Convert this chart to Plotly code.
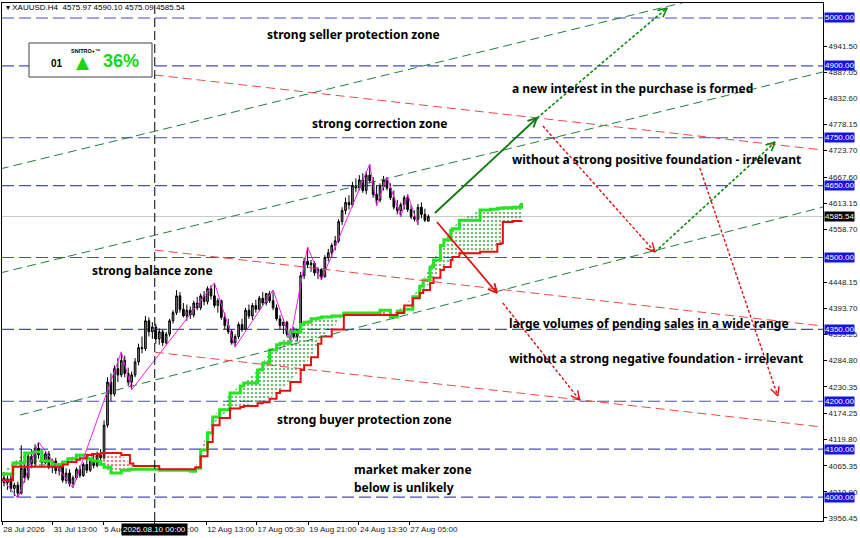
import math
import plotly.graph_objects as go

# ---- candles (H4 bars, index from the left edge) ----
opens = [4040, 4030, 4038, 4018, 4025, 4008, 4060, 4040, 4085, 4070,
         4102, 4088, 4072, 4090, 4062, 4075, 4055, 4066, 4035, 4050,
         4028, 4040, 4058, 4045, 4068, 4056, 4075, 4066, 4088, 4082,
         4150, 4240, 4215, 4268, 4255, 4285, 4258, 4240, 4255, 4282,
         4312, 4310, 4368, 4345, 4355, 4330, 4345, 4322, 4340, 4368,
         4385, 4420, 4392, 4378, 4390, 4380, 4405, 4395, 4420, 4408,
         4435, 4420, 4400, 4410, 4375, 4358, 4345, 4322, 4335, 4360,
         4350, 4390, 4378, 4400, 4392, 4415, 4405, 4425, 4410, 4395,
         4372, 4358, 4365, 4340, 4345, 4335, 4348, 4462, 4492, 4485,
         4488, 4468, 4475, 4460, 4500, 4510, 4525, 4535, 4575, 4598,
         4615, 4610, 4650, 4645, 4662, 4640, 4672, 4660, 4632, 4620,
         4648, 4662, 4645, 4625, 4605, 4598, 4610, 4625, 4600, 4585,
         4580, 4605, 4590, 4575.97]
highs = [4052, 4045, 4048, 4030, 4032, 4108, 4075, 4090, 4100, 4110,
         4115, 4098, 4095, 4096, 4080, 4082, 4070, 4072, 4060, 4058,
         4045, 4062, 4066, 4072, 4078, 4080, 4090, 4095, 4100, 4160,
         4250, 4258, 4275, 4290, 4303, 4295, 4270, 4262, 4290, 4320,
         4335, 4378, 4375, 4365, 4362, 4352, 4350, 4345, 4372, 4390,
         4432, 4428, 4405, 4402, 4398, 4410, 4418, 4425, 4430, 4440,
         4442, 4447, 4415, 4412, 4385, 4372, 4350, 4340, 4365, 4372,
         4395, 4402, 4405, 4412, 4420, 4428, 4425, 4430, 4432, 4402,
         4380, 4372, 4368, 4352, 4355, 4350, 4470, 4500, 4522, 4495,
         4492, 4480, 4478, 4505, 4518, 4530, 4545, 4580, 4605, 4625,
         4630, 4658, 4665, 4672, 4676, 4680, 4695, 4668, 4650, 4655,
         4670, 4668, 4655, 4640, 4620, 4615, 4630, 4632, 4610, 4598,
         4612, 4615, 4602, 4590.10]
lows = [4022, 4015, 4010, 4002, 3998, 4005, 4030, 4035, 4060, 4065,
        4080, 4065, 4068, 4058, 4050, 4048, 4045, 4030, 4028, 4022,
        4019, 4036, 4040, 4042, 4050, 4052, 4060, 4062, 4070, 4078,
        4145, 4200, 4210, 4240, 4250, 4250, 4232, 4224, 4250, 4275,
        4300, 4305, 4335, 4330, 4320, 4318, 4315, 4318, 4335, 4362,
        4380, 4385, 4375, 4368, 4372, 4375, 4390, 4390, 4400, 4402,
        4412, 4395, 4385, 4370, 4350, 4340, 4318, 4313, 4330, 4345,
        4348, 4372, 4370, 4385, 4388, 4400, 4400, 4405, 4390, 4368,
        4350, 4340, 4335, 4328, 4330, 4325, 4345, 4455, 4478, 4470,
        4462, 4455, 4453, 4458, 4492, 4500, 4515, 4530, 4568, 4590,
        4600, 4605, 4636, 4640, 4635, 4632, 4655, 4625, 4608, 4615,
        4640, 4640, 4620, 4600, 4590, 4585, 4600, 4595, 4580, 4575,
        4568, 4582, 4574, 4575.09]
closes = [4030, 4038, 4018, 4025, 4008, 4060, 4040, 4085, 4070, 4102,
          4088, 4072, 4090, 4062, 4075, 4055, 4066, 4035, 4050, 4028,
          4040, 4058, 4045, 4068, 4056, 4075, 4066, 4088, 4082, 4150,
          4240, 4215, 4268, 4255, 4285, 4258, 4240, 4255, 4282, 4312,
          4310, 4368, 4345, 4355, 4330, 4345, 4322, 4340, 4368, 4385,
          4420, 4392, 4378, 4390, 4380, 4405, 4395, 4420, 4408, 4435,
          4420, 4400, 4410, 4375, 4358, 4345, 4322, 4335, 4360, 4350,
          4390, 4378, 4400, 4392, 4415, 4405, 4425, 4410, 4395, 4372,
          4358, 4365, 4340, 4345, 4335, 4348, 4462, 4492, 4485, 4488,
          4468, 4475, 4460, 4500, 4510, 4525, 4535, 4575, 4598, 4615,
          4610, 4650, 4645, 4662, 4640, 4672, 4660, 4632, 4620, 4648,
          4662, 4645, 4625, 4605, 4598, 4610, 4625, 4600, 4585, 4580,
          4605, 4590, 4578, 4585.54]
bars = list(range(len(closes)))
last_price = 4585.54

# ---- zigzag pivots ----
zz_x = [-1, 4, 10, 20, 34, 37, 61, 67, 78, 83, 88, 92, 106, 108, 111, 115, 117, 120]
zz_y = [4042, 3998, 4115, 4019, 4303, 4224, 4447, 4313, 4432, 4328, 4522, 4453,
        4695, 4608, 4668, 4585, 4632, 4568]

# ---- ichimoku cloud (span A green, span B red), shifted 26 bars ahead ----
cloud_x = [-1, 2.6, 6, 8.5, 11, 14, 17, 18.5, 21, 22,
           24, 25.5, 28, 29, 31, 34, 36.5, 37.5, 45, 54,
           55.5, 57, 59, 60.5, 62.5, 65.5, 68.5, 69.5, 73.5, 75,
           77, 79, 80, 83, 86, 87, 89, 91, 92, 95,
           98.5, 109, 112, 114, 116, 118.5, 120.5, 121.5, 123.5, 124.5,
           126.5, 127.5, 129.5, 130, 132, 138, 141, 143, 144, 144.6,
           147.5, 150]
span_a = [4048, 4071, 4092, 4094, 4075, 4068, 4073, 4080, 4088, 4088,
          4080, 4075, 4068, 4062, 4050, 4056, 4058, 4058, 4056, 4054,
          4060, 4098, 4134, 4167, 4182, 4217, 4232, 4238, 4265, 4280,
          4307, 4318, 4321, 4345, 4360, 4365, 4372, 4374, 4376, 4378,
          4384, 4390, 4376, 4388, 4392, 4418, 4440, 4453, 4480, 4495,
          4525, 4537, 4557, 4560, 4578, 4599, 4601, 4603, 4603, 4604,
          4605, 4614]
span_b = [4035, 4063, 4063, 4063, 4063, 4063, 4068, 4073, 4078, 4081,
          4088, 4090, 4092, 4092, 4092, 4088, 4070, 4065, 4058, 4058,
          4062, 4085, 4115, 4150, 4165, 4185, 4188, 4190, 4196, 4198,
          4205, 4217, 4222, 4240, 4265, 4275, 4292, 4320, 4335, 4350,
          4380, 4380, 4380, 4384, 4400, 4415, 4426, 4432, 4447, 4458,
          4474, 4480, 4495, 4501, 4509, 4512, 4512, 4528, 4530, 4574,
          4576, 4578]

# ---- levels ----
levels = [5000, 4900, 4750, 4650, 4500, 4350, 4200, 4100, 4000]
axis_ticks = [4941.50, 4887.05, 4832.60, 4778.15, 4723.70, 4667.60, 4613.15, 4558.70,
              4448.15, 4393.70, 4339.25, 4284.80, 4230.35, 4174.25, 4119.80, 4065.35,
              4010.90, 3956.45]
time_ticks = [-0.5, 14.1, 28.8, 43.7, 58.6, 73.2, 88.2, 102.9, 117.5]
time_labels = ["28 Jul 2026", "31 Jul 13:00", "5 Aug 05:00", "7 Aug 21:00", "12 Aug 13:00",
               "17 Aug 05:30", "19 Aug 21:00", "24 Aug 13:30", "27 Aug 05:00"]
marker_bar = 43.7

# ---- trend lines (bar, price) -> (bar, price) ----
green_lines = [((-1.2, 4684.8), (201.7, 5040.6)),
               ((-1.2, 4467.6), (237.4, 4887.3)),
               ((4.6, 4171.2), (237.4, 4605.4))]
red_lines = [((43.7, 4881.0), (237.4, 4724.4)),
             ((43.7, 4515.7), (237.4, 4357.0)),
             ((43.7, 4302.3), (237.4, 4146.1))]

# ---- scenario arrows ----
arrows = [((124.9, 4592.9), (154.5, 4791.2), "#0a7a0a", "solid", 1.8),
          ((154.5, 4791.2), (192.2, 5020.9), "#0a8a0a", "3px,2px", 1.6),
          ((156.2, 4774.5), (188.7, 4511.5), "#e01010", "3px,2px", 1.4),
          ((188.7, 4511.5), (223.5, 4741.1), "#0a8a0a", "3px,2px", 1.6),
          ((201.7, 4686.8), (224.3, 4210.9), "#e01010", "3px,2px", 1.4),
          ((125.5, 4574.1), (142.9, 4425.9), "#e01010", "solid", 1.8),
          ((144.6, 4405.0), (166.9, 4202.5), "#e01010", "3px,2px", 1.4)]

zone_texts = [("strong seller protection zone", 265, 35),
              ("a new interest in the purchase is formed", 510, 88),
              ("strong correction zone", 310, 124),
              ("without a strong positive foundation - irrelevant", 510, 160),
              ("strong balance zone", 90, 270),
              ("large volumes of pending sales in a wide range", 507, 323),
              ("without a strong negative foundation - irrelevant", 507, 358),
              ("strong buyer protection zone", 275, 419),
              ("market maker zone", 352, 469),
              ("below is unlikely", 352, 487)]

# plot geometry (pixels)
W_FIG, H_FIG = 860, 538
L, T, W, H = 2, 3, 821, 518
x_range = [-0.58, 237.4]
y_range = [3950.0, 5031.3]
sx = W / (x_range[1] - x_range[0])
sy = H / (y_range[1] - y_range[0])


def px(x):
    return (x - L) / W


def py(y):
    return 1 - (y - T) / H


fig = go.Figure()

# cloud fills: green dots where A above B, red dots where B above A
top_ab = [max(a, b) for a, b in zip(span_a, span_b)]
fig.add_trace(go.Scatter(x=cloud_x, y=span_b, mode="lines", line=dict(width=0), hoverinfo="skip"))
fig.add_trace(go.Scatter(x=cloud_x, y=top_ab, mode="lines", line=dict(width=0), fill="tonexty",
                         fillcolor="rgba(0,0,0,0)",
                         fillpattern=dict(shape=".", fgcolor="#0b6e0b", bgcolor="rgba(0,0,0,0)",
                                          size=4, solidity=0.35),
                         hoverinfo="skip"))
fig.add_trace(go.Scatter(x=cloud_x, y=span_a, mode="lines", line=dict(width=0), hoverinfo="skip"))
fig.add_trace(go.Scatter(x=cloud_x, y=top_ab, mode="lines", line=dict(width=0), fill="tonexty",
                         fillcolor="rgba(0,0,0,0)",
                         fillpattern=dict(shape=".", fgcolor="#d01010", bgcolor="rgba(0,0,0,0)",
                                          size=4, solidity=0.35),
                         hoverinfo="skip"))
fig.add_trace(go.Scatter(x=cloud_x, y=span_a, mode="lines", line=dict(color="#22e622", width=3, shape="hv")))
fig.add_trace(go.Scatter(x=cloud_x, y=span_b, mode="lines", line=dict(color="#e60f0f", width=2, shape="hv")))

# trend lines
for (x0, y0), (x1, y1) in green_lines:
    fig.add_trace(go.Scatter(x=[x0, x1], y=[y0, y1], mode="lines",
                             line=dict(color="#1f7f3f", width=1, dash="9px,5px")))
for (x0, y0), (x1, y1) in red_lines:
    fig.add_trace(go.Scatter(x=[x0, x1], y=[y0, y1], mode="lines",
                             line=dict(color="#e84a4a", width=1, dash="9px,5px")))

# candles
fig.add_trace(go.Candlestick(
    x=bars, open=opens, high=highs, low=lows, close=closes,
    increasing=dict(line=dict(color="#000000", width=1), fillcolor="#8a8a8a"),
    decreasing=dict(line=dict(color="#000000", width=1), fillcolor="#000000"),
    whiskerwidth=0, hoverinfo="skip"))

# zigzag
fig.add_trace(go.Scatter(x=zz_x, y=zz_y, mode="lines", line=dict(color="#ee22ee", width=1)))

# arrows with open V heads
for (x0, y0), (x1, y1), col, dash, lw in arrows:
    fig.add_trace(go.Scatter(x=[x0, x1], y=[y0, y1], mode="lines",
                             line=dict(color=col, width=lw, dash=dash)))
    dx, dy = (x1 - x0) * sx, (y1 - y0) * sy
    n = math.hypot(dx, dy)
    ux, uy = dx / n, dy / n
    hx, hy = [], []
    for ang in (0.45, -0.45):
        rx = ux * math.cos(ang) - uy * math.sin(ang)
        ry = ux * math.sin(ang) + uy * math.cos(ang)
        hx += [x1 - rx * 10 / sx, x1, None]
        hy += [y1 - ry * 10 / sy, y1, None]
    fig.add_trace(go.Scatter(x=hx, y=hy, mode="lines", line=dict(color=col, width=lw)))

shapes = []
for lv in levels:
    shapes.append(dict(type="line", xref="paper", x0=0, x1=1, yref="y", y0=lv, y1=lv,
                       line=dict(color="#4848cc", width=1.2, dash="12px,5px"), layer="below"))
shapes.append(dict(type="line", xref="paper", x0=0, x1=1, yref="y", y0=last_price, y1=last_price,
                   line=dict(color="#c8c8c8", width=1), layer="below"))
shapes.append(dict(type="line", xref="x", x0=marker_bar, x1=marker_bar, yref="paper", y0=0, y1=1,
                   line=dict(color="#000000", width=1, dash="9px,4px")))
# indicator panel
shapes.append(dict(type="rect", xref="paper", yref="paper", x0=px(29), x1=px(152), y0=py(77), y1=py(43),
                   line=dict(color="#404040", width=1), fillcolor="white"))

annotations = []
for txt, x0, y0 in zone_texts:
    annotations.append(dict(text=txt, xref="paper", yref="paper", x=px(x0), y=py(y0),
                            xanchor="left", yanchor="middle", showarrow=False,
                            font=dict(family="Noto Sans", size=12, weight="bold", color="#000000")))

for lv in levels:
    annotations.append(dict(text="%.2f" % lv, xref="paper", yref="y", x=1, y=lv, xshift=1,
                            xanchor="left", yanchor="middle", showarrow=False,
                            bgcolor="#1414e6", borderpad=0,
                            font=dict(family="Liberation Sans", size=8, color="white")))
annotations.append(dict(text="%.2f" % last_price, xref="paper", yref="y", x=1, y=last_price, xshift=1,
                        xanchor="left", yanchor="middle", showarrow=False, bgcolor="#000000", borderpad=0,
                        font=dict(family="Liberation Sans", size=8, color="white")))
annotations.append(dict(text="2026.08.10 00:00", xref="x", yref="paper", x=marker_bar, y=0, yshift=-2,
                        xanchor="center", yanchor="top", showarrow=False, bgcolor="#000000", borderpad=1,
                        font=dict(family="Liberation Sans", size=8, color="white")))
annotations.append(dict(text="▾ XAUUSD.H4  %.2f %.2f %.2f %.2f" % (opens[-1], highs[-1], lows[-1], closes[-1]),
                        xref="paper", yref="paper", x=px(4), y=py(8), xanchor="left", yanchor="middle",
                        showarrow=False, font=dict(family="Liberation Sans", size=8, color="#000000")))
# indicator panel texts
panel = dict(xref="paper", yref="paper", showarrow=False, xanchor="center", yanchor="middle")
annotations += [
    dict(panel, text="<b>01</b>", x=px(57), y=py(64),
         font=dict(family="Liberation Sans", size=10, color="#000000")),
    dict(panel, text="<b>SNITRO+™</b>", x=px(86), y=py(51),
         font=dict(family="Liberation Sans", size=5.5, color="#000000")),
    dict(panel, text="▲", x=px(83), y=py(62),
         font=dict(family="DejaVu Sans", size=17, color="#16d816")),
    dict(panel, text="<b>36%</b>", x=px(121), y=py(61),
         font=dict(family="Liberation Sans", size=18, color="#16d816")),
]

fig.update_layout(
    width=W_FIG, height=H_FIG,
    margin=dict(l=L, r=W_FIG - L - W, t=T, b=H_FIG - T - H),
    paper_bgcolor="white", plot_bgcolor="white",
    showlegend=False, shapes=shapes, annotations=annotations,
    xaxis=dict(range=x_range, showgrid=False, zeroline=False, rangeslider=dict(visible=False),
               tickvals=time_ticks, ticktext=time_labels, ticks="outside", ticklen=3,
               tickcolor="#000", ticklabelposition="outside right", tickangle=0, automargin=False,
               tickfont=dict(family="Liberation Sans", size=8, color="#222"),
               showline=True, linecolor="#000", linewidth=1, mirror=True),
    yaxis=dict(range=y_range, side="right", showgrid=False, zeroline=False, automargin=False,
               tickvals=axis_ticks, ticktext=["%.2f" % v for v in axis_ticks],
               ticks="outside", ticklen=3, tickcolor="#000",
               tickfont=dict(family="Liberation Sans", size=8, color="#222"),
               showline=True, linecolor="#000", linewidth=1, mirror=True),
)

fig.write_html("out.html", config={"displayModeBar": False},
               post_script="document.body.style.margin='0px';")
